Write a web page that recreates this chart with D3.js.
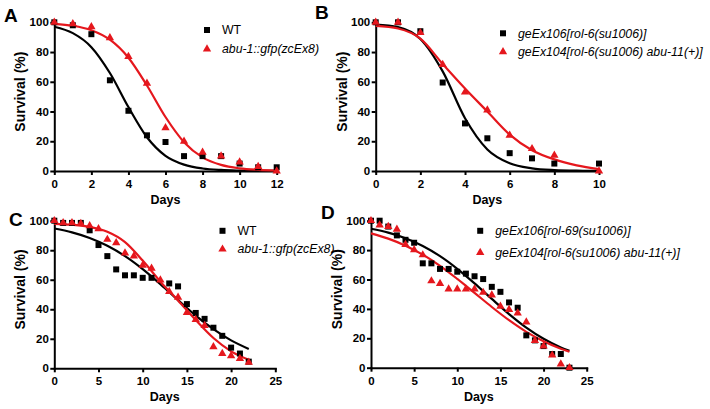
<!DOCTYPE html>
<html>
<head>
<meta charset="utf-8">
<script src="https://cdn.jsdelivr.net/npm/d3@7"></script>
<style>
  body { margin: 0; background: #fff; }
  svg { display: block; font-family: "Liberation Sans", Arial, sans-serif; }
</style>
</head>
<body>
<svg id="chart" width="710" height="409"></svg>
<script>
// ---- data (survival %, by day) ----
var yTicks = [0, 20, 40, 60, 80, 100];

// panel A
var xTicksA = [0, 2, 4, 6, 8, 10, 12];
var daysA = [0, 1, 2, 3, 4, 5, 6, 7, 8, 9, 10, 11, 12];
var wtA   = [100, 98, 92, 61, 40.5, 24, 19.5, 10, 10, 10, 5, 2.5, 2.5];
var abuA  = [100, 99, 97, 89.5, 77, 59, 29, 20, 12.5, 10, 6, 3, 0];
var fitDaysA = [0, 1, 2, 3, 4, 5, 6, 7, 8, 9, 10, 11, 12];
var wtFitA   = [97, 92.7, 83.3, 65.9, 43, 22.7, 10.2, 4.3, 1.7, 0.7, 0.3, 0.1, 0.04];
var abuFitA  = [99, 97.7, 94.7, 88.3, 76.2, 57.5, 36.3, 19.4, 9.2, 4.1, 1.8, 0.8, 0.3];

// panel B
var xTicksB = [0, 2, 4, 6, 8, 10];
var daysB  = [0, 1, 2, 3, 4, 5, 6, 7, 8, 10];
var rolB   = [100, 100, 94, 59.5, 32, 22, 12, 8.5, 5, 5];
var abu11B = [100, 100, 93, 71.5, 53, 41, 24, 15, 10.5, 0];
var fitDaysB  = [0, 1, 2, 3, 4, 5, 6, 7, 8, 9, 10];
var rolFitB   = [98.5, 96.8, 88.8, 67, 35.5, 14.5, 5.2, 1.8, 0.6, 0.2, 0.1];
var abu11FitB = [97.6, 95.8, 89, 72, 55.5, 40, 24.5, 14, 7.8, 3.8, 1.3];

// panel C
var xTicksCD = [0, 5, 10, 15, 20, 25];
var daysWtC = [0, 1, 2, 3, 4, 5, 6, 7, 8, 9, 10, 11, 13, 14, 15, 16, 17, 18, 19, 20, 21, 22];
var wtC     = [100, 98.5, 98.5, 98.5, 93.5, 83.5, 76, 67, 63, 63, 61.3, 61.3, 57.5, 55.5, 43.5, 37.5, 33.5, 27.5, 22, 14, 10, 4.5];
var daysAbuC = [0, 1, 2, 3, 4, 5, 6, 7, 8, 9, 10, 11, 12, 13, 14, 15, 16, 17, 18, 19, 20, 21, 22];
var abuC     = [100, 98.5, 98.5, 98, 96.5, 94.5, 87.3, 85, 78, 76, 69.8, 67.8, 59.8, 52, 48.1, 37.8, 33, 29, 14.5, 10, 8.5, 6.6, 4];
var fitDaysC = [0, 2, 4, 6, 8, 10, 12, 14, 16, 18, 20, 22];
var wtFitC   = [94.7, 92.1, 88.3, 83, 76, 67.2, 57, 46.2, 35.7, 26.5, 18.9, 13.1];
var abuFitC  = [97.8, 97.2, 95.8, 92.5, 85.5, 73, 58.7, 46, 32.7, 20.5, 11.5, 5.8];

// panel D
var daysD  = [0, 1, 2, 3, 4, 5, 6, 7, 8, 9, 10, 11, 12, 13, 14, 15, 16, 17, 18, 19, 20, 21, 22, 23];
var rol69D = [100, 100, 96, 90, 87, 85, 71, 71, 67.2, 67.2, 65.3, 64, 62.2, 60.3, 55, 51.6, 44.4, 40.8, 22, 18.6, 14.7, 9.3, 9.3, 0];
var abu11D = [100, 97, 96, 94.2, 83.8, 80.2, 76.7, 59, 57.2, 53.5, 53.5, 53.5, 53.5, 51.2, 49.4, 41.8, 39.6, 37.1, 31, 18.5, 14.7, 8.5, 2.4, 0];
var fitDaysD  = [0, 2, 4, 6, 8, 10, 12, 14, 16, 18, 20, 22, 23];
var rol69FitD = [94.5, 91.9, 88.1, 82.8, 75.9, 67.3, 57.4, 46.8, 36.5, 27.3, 19.7, 13.8, 11.5];
var abu11FitD = [91.4, 87.8, 83, 76.9, 69.3, 60.4, 50.9, 41.3, 32.3, 24.4, 18, 12.9, 10.9];

var RED = "#e5171d";
var svg = d3.select("#chart");

function zip(xs, ys) {
  return xs.map(function(d, i) { return [d, ys[i]]; });
}

function drawPanel(p) {
  var x = d3.scaleLinear().domain([0, p.xMax]).range([p.left, p.right]);
  var y = d3.scaleLinear().domain([0, 100]).range([p.bottom, p.top]);
  var g = svg.append("g");

  var xAxis = d3.axisBottom(x).tickValues(p.xTicks).tickSize(4).tickSizeOuter(0).tickPadding(5);
  var yAxis = d3.axisLeft(y).tickValues(yTicks).tickSize(4).tickSizeOuter(0).tickPadding(1.5);

  var gx = g.append("g").attr("transform", "translate(0," + p.bottom + ")").call(xAxis);
  var gy = g.append("g").attr("transform", "translate(" + p.left + ",0)").call(yAxis);
  [gx, gy].forEach(function(a) {
    a.select(".domain").attr("stroke-width", 2).attr("stroke-linecap", "square");
    a.selectAll(".tick line").attr("stroke-width", 2);
    a.selectAll(".tick text").attr("font-size", 11.5).attr("font-weight", "bold")
      .attr("font-family", "Liberation Sans, Arial, sans-serif").attr("fill", "#000");
  });

  var line = d3.line()
    .x(function(d) { return x(d[0]); })
    .y(function(d) { return y(d[1]); })
    .curve(d3.curveMonotoneX);

  g.append("path").datum(zip(p.fitDays, p.blackFit))
    .attr("d", line).attr("fill", "none").attr("stroke", "#000").attr("stroke-width", 2.2);
  g.append("path").datum(zip(p.fitDays, p.redFit))
    .attr("d", line).attr("fill", "none").attr("stroke", RED).attr("stroke-width", 2.2);

  var sq = d3.symbol().type(d3.symbolSquare).size(36);
  var tri = d3.symbol().type(d3.symbolTriangle).size(30);

  g.selectAll(".sq").data(zip(p.blackDays, p.black)).enter().append("path")
    .attr("d", sq).attr("fill", "#000")
    .attr("transform", function(d) { return "translate(" + x(d[0]) + "," + y(d[1]) + ")"; });
  g.selectAll(".tri").data(zip(p.redDays, p.red)).enter().append("path")
    .attr("d", tri).attr("fill", RED)
    .attr("transform", function(d) { return "translate(" + x(d[0]) + "," + y(d[1]) + ")"; });

  // panel letter
  g.append("text").attr("x", p.letterX).attr("y", p.letterY)
    .attr("font-size", 19).attr("font-weight", "bold").text(p.letter);

  // axis titles
  g.append("text").attr("x", (p.left + p.right) / 2).attr("y", p.bottom + 33)
    .attr("text-anchor", "middle").attr("font-size", 12.5).attr("font-weight", "bold").text("Days");
  g.append("text")
    .attr("transform", "translate(" + (p.left - 34) + "," + ((p.top + p.bottom) / 2 - 5) + ") rotate(-90)")
    .attr("text-anchor", "middle").attr("dy", "0.35em")
    .attr("font-size", 14).attr("font-weight", "bold").text("Survival (%)");

  // legend
  var lg = g.append("g").attr("transform", "translate(" + p.legX + "," + p.legY + ")");
  lg.append("path").attr("d", sq).attr("fill", "#000");
  lg.append("path").attr("d", tri).attr("fill", RED).attr("transform", "translate(0," + p.legGap + ")");
  lg.append("text").attr("x", 15).attr("y", 4.3).attr("font-size", 12.3)
    .attr("font-style", p.blackItalic ? "italic" : "normal").text(p.blackName);
  lg.append("text").attr("x", 15).attr("y", p.legGap + 4.3).attr("font-size", 12.3)
    .attr("font-style", "italic").text(p.redName);
}

drawPanel({
  letter: "A", letterX: 4, letterY: 22,
  left: 54.3, right: 276.7, top: 22.3, bottom: 171, xMax: 12, xTicks: xTicksA,
  blackDays: daysA, black: wtA, redDays: daysA, red: abuA,
  fitDays: fitDaysA, blackFit: wtFitA, redFit: abuFitA,
  legX: 207, legY: 30, legGap: 19,
  blackName: "WT", blackItalic: false, redName: "abu-1::gfp(zcEx8)"
});

drawPanel({
  letter: "B", letterX: 315, letterY: 19,
  left: 375.7, right: 599, top: 22.3, bottom: 171, xMax: 10, xTicks: xTicksB,
  blackDays: daysB, black: rolB, redDays: daysB, red: abu11B,
  fitDays: fitDaysB, blackFit: rolFitB, redFit: abu11FitB,
  legX: 503, legY: 33.3, legGap: 18.5,
  blackName: "geEx106[rol-6(su1006)]", blackItalic: true, redName: "geEx104[rol-6(su1006) abu-11(+)]"
});

drawPanel({
  letter: "C", letterX: 9, letterY: 226,
  left: 54.3, right: 275.3, top: 220.7, bottom: 368.3, xMax: 25, xTicks: xTicksCD,
  blackDays: daysWtC, black: wtC, redDays: daysAbuC, red: abuC,
  fitDays: fitDaysC, blackFit: wtFitC, redFit: abuFitC,
  legX: 222.5, legY: 230.8, legGap: 18.4,
  blackName: "WT", blackItalic: false, redName: "abu-1::gfp(zcEx8)"
});

drawPanel({
  letter: "D", letterX: 321, letterY: 218.5,
  left: 371, right: 586.7, top: 220.7, bottom: 367.7, xMax: 25, xTicks: xTicksCD,
  blackDays: daysD, black: rol69D, redDays: daysD, red: abu11D,
  fitDays: fitDaysD, blackFit: rol69FitD, redFit: abu11FitD,
  legX: 480.2, legY: 230.8, legGap: 21.7,
  blackName: "geEx106[rol-69(su1006)]", blackItalic: true, redName: "geEx104[rol-6(su1006) abu-11(+)]"
});
</script>
</body>
</html>
